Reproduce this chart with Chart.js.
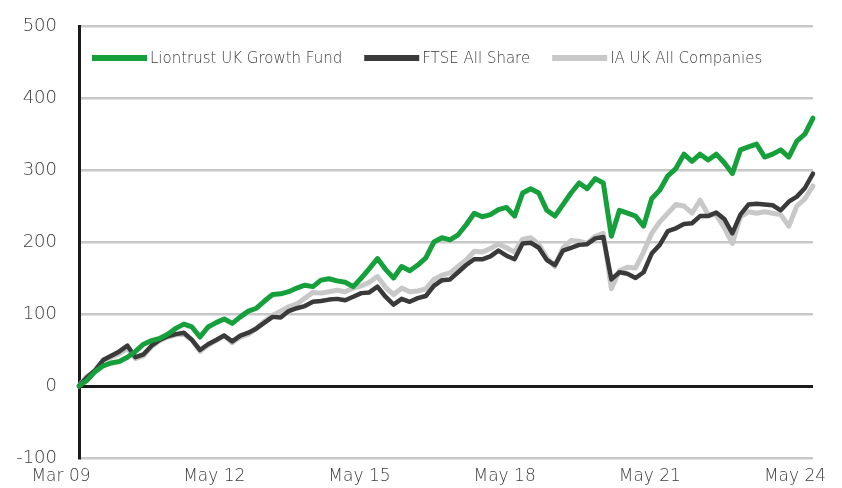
<!DOCTYPE html>
<html>
<head>
<meta charset="utf-8">
<script src="https://cdn.jsdelivr.net/npm/chart.js@4"></script>
<style>
    html, body { margin: 0; padding: 0; background: #fff; }
    #wrap { position: relative; width: 842px; height: 488px; }
</style>
</head>
<body>
<div id="wrap"><canvas id="perfChart"></canvas></div>
<script>
// every second month, Mar 09 -> May 24
const dates = [
    'Mar 09', 'May 09', 'Jul 09', 'Sep 09', 'Nov 09',
    'Jan 10', 'Mar 10', 'May 10', 'Jul 10', 'Sep 10', 'Nov 10',
    'Jan 11', 'Mar 11', 'May 11', 'Jul 11', 'Sep 11', 'Nov 11',
    'Jan 12', 'Mar 12', 'May 12', 'Jul 12', 'Sep 12', 'Nov 12',
    'Jan 13', 'Mar 13', 'May 13', 'Jul 13', 'Sep 13', 'Nov 13',
    'Jan 14', 'Mar 14', 'May 14', 'Jul 14', 'Sep 14', 'Nov 14',
    'Jan 15', 'Mar 15', 'May 15', 'Jul 15', 'Sep 15', 'Nov 15',
    'Jan 16', 'Mar 16', 'May 16', 'Jul 16', 'Sep 16', 'Nov 16',
    'Jan 17', 'Mar 17', 'May 17', 'Jul 17', 'Sep 17', 'Nov 17',
    'Jan 18', 'Mar 18', 'May 18', 'Jul 18', 'Sep 18', 'Nov 18',
    'Jan 19', 'Mar 19', 'May 19', 'Jul 19', 'Sep 19', 'Nov 19',
    'Jan 20', 'Mar 20', 'May 20', 'Jul 20', 'Sep 20', 'Nov 20',
    'Jan 21', 'Mar 21', 'May 21', 'Jul 21', 'Sep 21', 'Nov 21',
    'Jan 22', 'Mar 22', 'May 22', 'Jul 22', 'Sep 22', 'Nov 22',
    'Jan 23', 'Mar 23', 'May 23', 'Jul 23', 'Sep 23', 'Nov 23',
    'Jan 24', 'Mar 24', 'May 24',
];

const tickLabels = ['Mar 09', 'May 12', 'May 15', 'May 18', 'May 21', 'May 24'];

const liontrust = [
    0, 8, 20, 28, 32, 34, 40, 48, 58, 63, 66, 72, 80, 86, 82, 68, 82, 88, 93, 87,
    96, 104, 108, 118, 127, 128, 131, 136, 140, 138, 147, 149, 146, 144, 138, 150, 163, 177, 162, 150,
    166, 160, 168, 178, 200, 206, 203, 210, 224, 240, 235, 238, 245, 248, 236, 268, 274, 268, 244, 236,
    252, 268, 282, 274, 288, 282, 208, 244, 240, 236, 222, 260, 272, 292, 302, 322, 312, 322, 314, 322,
    310, 295, 328, 332, 336, 318, 322, 328, 318, 340, 350, 372,
];

const ftseAllShare = [
    0, 12, 22, 36, 42, 48, 56, 40, 44, 56, 64, 69, 72, 74, 64, 50, 58, 64, 70, 62,
    70, 74, 80, 88, 96, 95, 104, 108, 111, 117, 118, 120, 121, 119, 124, 129, 130, 138, 124, 113,
    121, 117, 122, 125, 139, 147, 148, 158, 168, 176, 176, 180, 188, 181, 176, 198, 199, 192, 175, 168,
    188, 192, 196, 197, 205, 207, 148, 158, 156, 150, 158, 184, 196, 215, 219, 225, 226, 236, 236, 241,
    232, 212, 238, 252, 253, 252, 251, 244, 256, 263, 275, 295,
];

const iaUkAll = [
    0, 14, 20, 36, 40, 45, 52, 38, 42, 55, 63, 68, 71, 72, 64, 48, 57, 63, 70, 60,
    68, 72, 80, 90, 98, 104, 110, 114, 122, 130, 129, 131, 133, 131, 136, 139, 144, 152, 137, 127,
    136, 131, 132, 135, 148, 154, 157, 166, 175, 187, 186, 191, 197, 192, 186, 204, 206, 197, 178, 166,
    192, 202, 201, 198, 208, 212, 135, 160, 165, 164, 186, 212, 228, 240, 252, 250, 240, 258, 238, 238,
    220, 198, 235, 242, 240, 242, 240, 238, 222, 250, 260, 278,
];

const FONT = '"DejaVu Sans", sans-serif';
const TEXT = '#3c3c3c';

function series(label, data, color, width) {
    return {
        label,
        data,
        borderColor: color,
        backgroundColor: color,
        borderWidth: width,
        pointRadius: 0,
        tension: 0,
        borderJoinStyle: 'round',
        borderCapStyle: 'round',
    };
}

// the reference legend sits inside the plot, on one row
const insideLegend = {
    id: 'insideLegend',
    afterDatasetsDraw(chart) {
        const { ctx, chartArea } = chart;
        let x = chartArea.left + 13;
        const y = chartArea.top + 32;
        ctx.save();
        ctx.font = '200 15px ' + FONT;
        ctx.textBaseline = 'middle';
        chart.data.datasets.forEach((ds) => {
            ctx.fillStyle = ds.borderColor;
            ctx.fillRect(x, y - 3, 55, 6);
            x += 58;
            ctx.fillStyle = TEXT;
            ctx.fillText(ds.label, x, y + 1);
            x += ctx.measureText(ds.label).width + 22;
        });
        ctx.restore();
    },
};

document.addEventListener('DOMContentLoaded', () => {
    Chart.defaults.font.family = FONT;

    new Chart(document.getElementById('perfChart'), {
        type: 'line',
        data: {
            labels: dates,
            datasets: [
                series('Liontrust UK Growth Fund', liontrust, '#16a03c', 5),
                series('FTSE All Share', ftseAllShare, '#3a3a3a', 4.5),
                series('IA UK All Companies', iaUkAll, '#c8c8c8', 5),
            ],
        },
        options: {
            responsive: true,
            maintainAspectRatio: false,
            animation: false,
            layout: { padding: { top: 26, right: 29, bottom: 0, left: 0 } },
            plugins: {
                tooltip: { enabled: false },
                legend: { display: false },
            },
            scales: {
                x: {
                    type: 'category',
                    grid: { display: false },
                    border: { display: false },
                    ticks: {
                        autoSkip: false,
                        maxRotation: 0,
                        labelOffset: -18,
                        padding: 0,
                        color: TEXT,
                        font: { size: 17, weight: 200 },
                    },
                    afterBuildTicks: (s) => {
                        s.ticks = s.ticks.filter((t) => tickLabels.includes(dates[t.value]));
                    },
                    afterFit: (s) => {
                        s.height = 30;
                        s.paddingLeft = 0;
                        s.paddingRight = 0;
                    },
                },
                y: {
                    min: -100,
                    max: 500,
                    ticks: {
                        stepSize: 100,
                        padding: 22,
                        color: TEXT,
                        font: { size: 18, weight: 200 },
                    },
                    grid: {
                        drawTicks: false,
                        color: (ctx) => (ctx.tick && ctx.tick.value === 0 ? '#1a1a1a' : '#c8c8c8'),
                        lineWidth: (ctx) => (ctx.tick && ctx.tick.value === 0 ? 3 : 2.5),
                    },
                    border: { display: true, color: '#1a1a1a', width: 3 },
                    afterFit: (s) => {
                        s.width = 79;
                        s.paddingTop = 0;
                        s.paddingBottom = 0;
                    },
                },
            },
        },
        plugins: [insideLegend],
    });
});
</script>
</body>
</html>
